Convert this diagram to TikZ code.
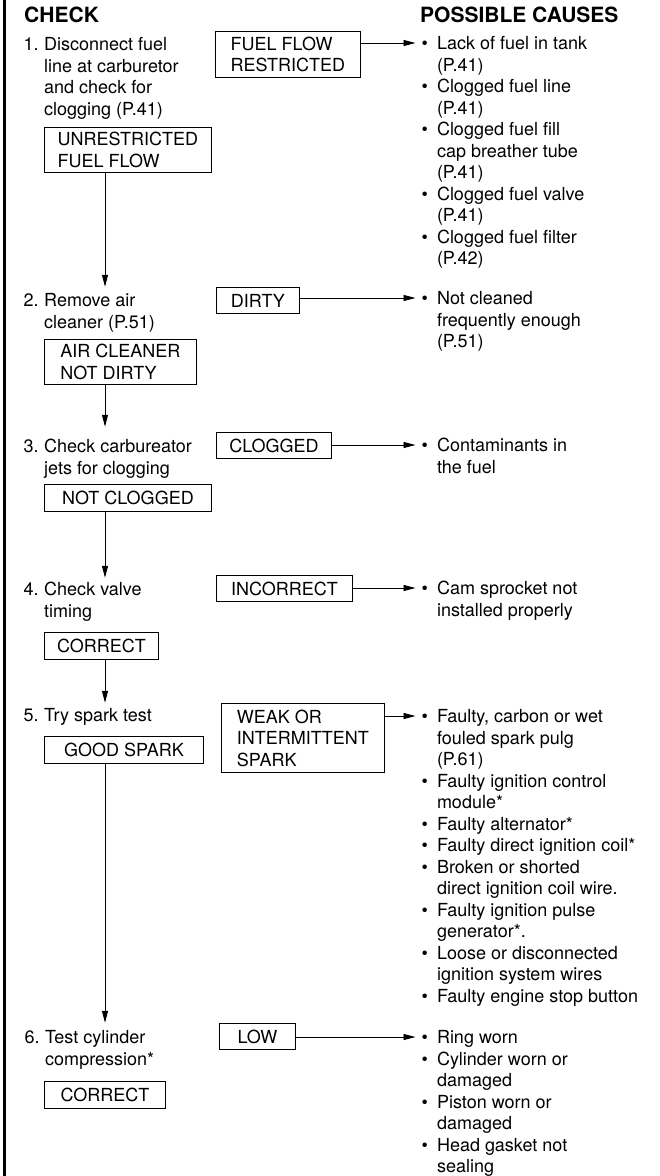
\documentclass[tikz,border=0pt]{standalone}
\usepackage{fontspec}
\setmainfont{TeX Gyre Heros}
\usetikzlibrary{arrows.meta,positioning,calc}
\newcommand{\bodyfont}{\fontsize{18}{21.5}\selectfont}
\newcommand{\stp}[2]{\begin{tabular}[t]{@{}p{20.5pt}@{}l@{}}#1&#2\end{tabular}}
\newcommand{\causes}[1]{\begin{tabular}[t]{@{}l@{\hspace{9pt}}l@{}}#1\end{tabular}}
\newcommand{\itm}{\textbullet&}
\tikzset{
  hdr/.style={anchor=base west, inner sep=0pt, font=\fontsize{21}{25}\selectfont\bfseries},
  stptxt/.style={anchor=base west, inner sep=0pt, font=\bodyfont},
  cause/.style={anchor=base west, inner sep=0pt, font=\bodyfont},
  res/.style={draw, line width=0.9pt, anchor=north west, align=left, inner sep=0pt, font=\bodyfont},
  flow/.style={-{Triangle[length=12pt,width=6pt]}, line width=0.9pt},
  leftrule/.style={line width=2.5pt},
}

\begin{document}
\begin{tikzpicture}[x=1pt, y=-1pt]
  \useasboundingbox (0,0) rectangle (659,1176);
  \draw[leftrule] (4.5,0) -- (4.5,1176);
  \coordinate (spine) at (105,0);
  % headings
  \node[hdr] (hcheck) at (24,22.5) {CHECK};
  \node[hdr] (hcause) at (420,22.5) {POSSIBLE CAUSES};
  % checks
  \node[stptxt] (s1) at (23.5,50.5) {\stp{1.}{Disconnect fuel\\&line at carburetor\\&and check for\\&clogging (P.41)}};
  \node[stptxt] (s2) at (23.5,306.5) {\stp{2.}{Remove air\\&cleaner (P.51)}};
  \node[stptxt] (s3) at (23.5,452.5) {\stp{3.}{Check carbureator\\&jets for clogging}};
  \node[stptxt] (s4) at (23.5,595.5) {\stp{4.}{Check valve\\&timing}};
  \node[stptxt] (s5) at (23.5,721.5) {\stp{5.}{Try spark test}};
  \node[stptxt] (s6) at (24.5,1043.5) {\stp{6.}{Test cylinder\\&compression*}};
  % results
  \node[res, minimum width=167, minimum height=45] (ok1) at (44,127) {UNRESTRICTED\\FUEL FLOW};
  \node[res, minimum width=145, minimum height=46] (bad1) at (215,31) {FUEL FLOW\\RESTRICTED};
  \node[res, minimum width=152, minimum height=45] (ok2) at (44,339) {AIR CLEANER\\NOT DIRTY};
  \node[res, minimum width=83, minimum height=26] (bad2) at (216,287) {DIRTY};
  \node[res, minimum width=167, minimum height=27] (ok3) at (44,484) {NOT CLOGGED};
  \node[res, minimum width=115, minimum height=26] (bad3) at (216,432) {CLOGGED};
  \node[res, minimum width=114, minimum height=27] (ok4) at (44,632) {CORRECT};
  \node[res, minimum width=136, minimum height=26] (bad4) at (216,575) {INCORRECT};
  \node[res, minimum width=159, minimum height=27] (ok5) at (44,736) {GOOD SPARK};
  \node[res, minimum width=163, minimum height=69] (bad5) at (221,703) {WEAK OR\\INTERMITTENT\\SPARK};
  \node[res, minimum width=121, minimum height=27] (ok6) at (44,1081) {CORRECT};
  \node[res, minimum width=76, minimum height=26] (bad6) at (219,1023) {LOW};
  % causes
  \node[cause] (c1) at (421.5,49.5) {\causes{\itm Lack of fuel in tank\\&(P.41)\\
    \itm Clogged fuel line\\&(P.41)\\
    \itm Clogged fuel fill\\&cap breather tube\\&(P.41)\\
    \itm Clogged fuel valve\\&(P.41)\\
    \itm Clogged fuel filter\\&(P.42)}};
  \node[cause] (c2) at (421.5,304.5) {\causes{\itm Not cleaned\\&frequently enough\\&(P.51)}};
  \node[cause] (c3) at (421.5,451.5) {\causes{\itm Contaminants in\\&the fuel}};
  \node[cause] (c4) at (421.5,594.5) {\causes{\itm Cam sprocket not\\&installed properly}};
  \node[cause] (c5) at (421.5,722.5) {\causes{\itm Faulty, carbon or wet\\&fouled spark pulg\\&(P.61)\\
    \itm Faulty ignition control\\&module*\\
    \itm Faulty alternator*\\
    \itm Faulty direct ignition coil*\\
    \itm Broken or shorted\\&direct ignition coil wire.\\
    \itm Faulty ignition pulse\\&generator*.\\
    \itm Loose or disconnected\\&ignition system wires\\
    \itm Faulty engine stop button}};
  \node[cause] (c6) at (421.5,1043.5) {\causes{\itm Ring worn\\
    \itm Cylinder worn or\\&damaged\\
    \itm Piston worn or\\&damaged\\
    \itm Head gasket not\\&sealing}};
  % flow down
  \draw[flow] (ok1.south -| spine) -- ([yshift=4.5pt]s2.north -| spine);
  \draw[flow] (ok2.south -| spine) -- ([yshift=10.5pt]s3.north -| spine);
  \draw[flow] (ok3.south -| spine) -- ([yshift=2.5pt]s4.north -| spine);
  \draw[flow] (ok4.south -| spine) -- ([yshift=3.5pt]s5.north -| spine);
  \draw[flow] (ok5.south -| spine) -- ([yshift=5.5pt]s6.north -| spine);
  % flow right
  \foreach \i in {1,...,6}{
    \path ([shift={(-6pt,6.5pt)}]c\i.base west) coordinate (t\i);
    \draw[flow] (bad\i.east |- t\i) -- (t\i);
  }
\end{tikzpicture}
\end{document}
